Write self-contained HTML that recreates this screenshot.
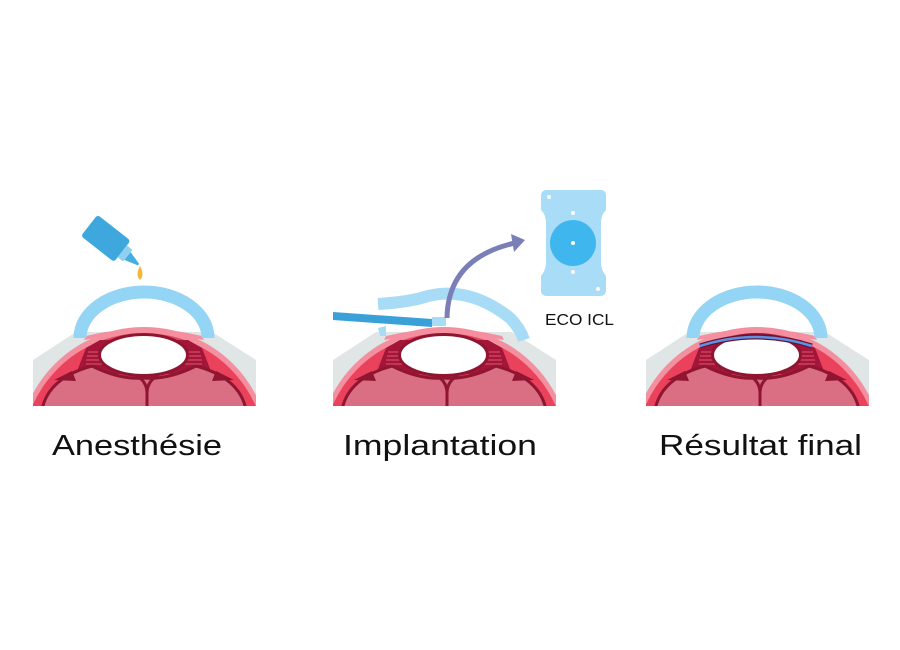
<!DOCTYPE html>
<html><head><meta charset="utf-8"><style>
html,body{margin:0;padding:0;background:#fff;width:900px;height:650px;overflow:hidden}
svg{display:block}
text{font-family:"Liberation Sans",sans-serif}
</style></head><body>
<svg width="900" height="650" viewBox="0 0 900 650" xmlns="http://www.w3.org/2000/svg">
<defs>
<clipPath id="cb"><rect x="33" y="0" width="223" height="406"/></clipPath>
<g id="eye">
 <g clip-path="url(#cb)">
  <polygon points="33,360 76,332 212,332 256,360 256,406 33,406" fill="#dfe6e5"/>
  <circle cx="144" cy="453" r="126" fill="#f3909f"/>
  <circle cx="144" cy="455" r="122" fill="#ea425c"/>
  <path d="M86,336 Q144,322 202,336 L204,340 Q144,328 84,340Z" fill="#f58fa0"/>
  <path d="M86,348 L100,340 L188,340 L202,348 L212,374 L76,374 Z" fill="#a3163a"/>
  <g stroke="#e0566e" stroke-width="1">
   <line x1="88" y1="352" x2="104" y2="352"/><line x1="87" y1="356" x2="104" y2="356"/><line x1="86" y1="360" x2="104" y2="360"/><line x1="86" y1="364" x2="106" y2="364"/>
   <line x1="184" y1="352" x2="200" y2="352"/><line x1="184" y1="356" x2="201" y2="356"/><line x1="184" y1="360" x2="202" y2="360"/><line x1="182" y1="364" x2="202" y2="364"/>
  </g>
  <path d="M42,410 Q48,378 92,366 Q120,380 144,378 Q168,380 196,366 Q240,378 246,410 Z" fill="#da6f83" stroke="#8f1530" stroke-width="3"/>
  <path d="M54,380 L72,371 L76,381 Z M234,380 L216,371 L212,381 Z" fill="#8f1530"/>
  <ellipse cx="143.5" cy="355" rx="44" ry="20.5" fill="#fff" stroke="#8f1530" stroke-width="3"/>
  <path d="M136,376 Q146,380 147,392 L147,406 M158,376 Q148,380 147,392" stroke="#8f1530" stroke-width="3" fill="none"/>
 </g>
</g>
</defs>

<!-- Eye 1 -->
<use href="#eye" x="0" y="0"/>
<path d="M80,338 A64,46 0 0 1 208,338" stroke="#94d4f5" stroke-width="13" fill="none"/>
<g transform="rotate(38 107 240)">
 <rect x="84" y="226" width="42" height="27" rx="3" fill="#3ea8de"/>
 <rect x="126" y="232" width="7" height="15" fill="#8fd0f0"/>
 <polygon points="133,235 147,239 147,241 133,245" fill="#45aee0"/>
</g>
<path d="M140,266 Q135,275 140,280 Q145,275 140,266Z" fill="#f4b73a"/>
<text x="52" y="455" font-size="29" fill="#111" textLength="170" lengthAdjust="spacingAndGlyphs">Anesthésie</text>

<!-- Eye 2 -->
<use href="#eye" x="300" y="0"/>
<path d="M378,304 Q410,302 428,296 Q470,286 510,318 Q520,328 524,340" stroke="#a8dcf6" stroke-width="12" fill="none"/>
<path d="M378,328 L386,326 L386,336 L380,336Z" fill="#a8dcf6"/>
<polygon points="333,312 432,319 432,327 333,320" fill="#3aa0d8"/>
<rect x="432" y="317" width="14" height="9" fill="#a8dcf6"/>
<path d="M447,318 Q448,258 515,243" stroke="#7b7fb8" stroke-width="5" fill="none"/>
<polygon points="525,240 511,234 514,252" fill="#7b7fb8"/>
<path d="M547,190 H601 Q606,190 606,196 V210 Q601,215 601,222 V262 Q601,270 606,276 V290 Q606,296 600,296 H547 Q541,296 541,290 V276 Q546,270 546,262 V222 Q546,215 541,210 V196 Q541,190 547,190Z" fill="#a9dcf7"/>
<circle cx="573" cy="243" r="23" fill="#3fb7ee"/>
<g fill="#fff"><circle cx="573" cy="243" r="2"/><circle cx="573" cy="213" r="2"/><circle cx="573" cy="272" r="2"/><circle cx="549" cy="197" r="2"/><circle cx="598" cy="289" r="2"/></g>
<text x="545" y="325" font-size="16" fill="#111" textLength="69" lengthAdjust="spacingAndGlyphs">ECO ICL</text>
<text x="343" y="455" font-size="29" fill="#111" textLength="194" lengthAdjust="spacingAndGlyphs">Implantation</text>

<!-- Eye 3 -->
<use href="#eye" x="613" y="0"/>
<path d="M693,338 A64,46 0 0 1 821,338" stroke="#94d4f5" stroke-width="13" fill="none"/>
<path d="M700,346 Q756,328 812,346" stroke="#6a1230" stroke-width="5" fill="none"/>
<path d="M700,346 Q756,328 812,346" stroke="#5b93e6" stroke-width="2.5" fill="none"/>
<text x="659" y="455" font-size="29" fill="#111" textLength="203" lengthAdjust="spacingAndGlyphs">Résultat final</text>
</svg>
</body></html>
